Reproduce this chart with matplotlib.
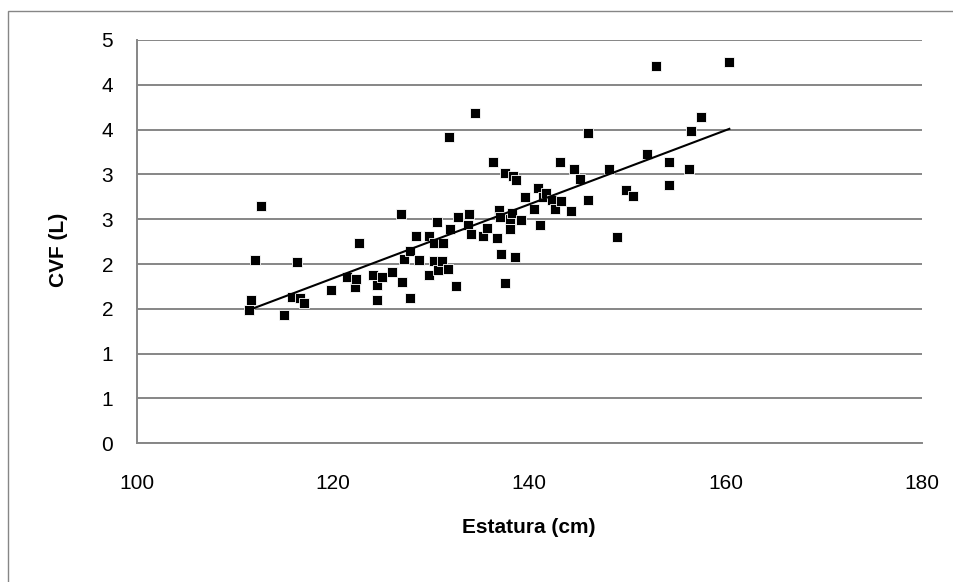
import numpy as np
import matplotlib
matplotlib.use("Agg")
import matplotlib.pyplot as plt
from matplotlib.patches import Rectangle

plt.rcParams['font.family'] = ['Liberation Sans', 'DejaVu Sans']

# estatura (cm) y CVF (L)
estatura = np.array([
    111.4, 111.6, 112.1, 112.7, 115.0, 115.8, 116.6, 117.1, 116.3, 119.8,
    121.4, 122.2, 122.3, 122.7, 124.1, 124.5, 124.5, 125.0, 126.0, 127.0,
    126.9, 127.2, 127.9, 127.9, 128.5, 128.8, 129.8, 129.8, 130.3, 130.3,
    130.6, 130.7, 131.1, 131.2, 131.7, 131.8, 131.9, 132.5, 132.7, 133.8,
    133.9, 134.1, 134.5, 135.3, 135.7, 136.3, 136.7, 136.9, 137.0, 137.1,
    137.5, 137.5, 138.0, 138.0, 138.2, 138.4, 138.7, 138.6, 139.2, 139.6,
    140.5, 140.9, 141.1, 141.4, 141.7, 142.3, 142.6, 143.1, 143.2, 144.3,
    144.6, 145.2, 146.0, 146.0, 148.1, 148.9, 149.9, 150.6, 152.0, 152.9,
    154.2, 154.2, 156.3, 156.5, 157.5, 160.4])
cvf = np.array([
    1.49, 1.60, 2.04, 2.65, 1.43, 1.63, 1.62, 1.56, 2.02, 1.71,
    1.86, 1.74, 1.83, 2.24, 1.88, 1.77, 1.60, 1.86, 1.91, 1.80,
    2.56, 2.06, 2.15, 1.62, 2.31, 2.04, 2.31, 1.88, 2.23, 2.03,
    2.47, 1.93, 2.03, 2.23, 1.95, 3.42, 2.39, 1.75, 2.53, 2.44,
    2.56, 2.34, 3.69, 2.31, 2.40, 3.14, 2.29, 2.60, 2.53, 2.11,
    3.02, 1.79, 2.50, 2.39, 2.57, 2.98, 2.94, 2.08, 2.49, 2.75,
    2.61, 2.85, 2.44, 2.75, 2.79, 2.72, 2.61, 3.14, 2.70, 2.59,
    3.06, 2.95, 2.71, 3.46, 3.06, 2.30, 2.83, 2.76, 3.23, 4.21,
    3.14, 2.88, 3.06, 3.48, 3.64, 4.25])

x_ticks = [100, 120, 140, 160, 180]
y_ticks = [0, 0.5, 1.0, 1.5, 2.0, 2.5, 3.0, 3.5, 4.0, 4.5]
y_tick_labels = ["0", "1", "1", "2", "2", "3", "3", "4", "4", "5"]

fig = plt.figure(figsize=(9.54, 5.82), dpi=100)
ax = fig.add_axes([0.1433, 0.2383, 0.8228, 0.6930])

# marco del grafico
fig.patches.append(Rectangle((8/954, -0.05), 1.2, 1 - 11/582 + 0.05,
                             transform=fig.transFigure, fill=False,
                             edgecolor='#868686', lw=1.0))

ax.set_xlim(100, 180)
ax.set_ylim(0, 4.5)
ax.set_xticks(x_ticks)
ax.set_yticks(y_ticks)
ax.set_yticklabels(y_tick_labels)
ax.grid(axis='y', color='#868686', lw=1.4)
ax.set_axisbelow(True)

for s in ['top', 'right']:
    ax.spines[s].set_visible(False)
for s in ['left', 'bottom']:
    ax.spines[s].set_color('#868686')
    ax.spines[s].set_linewidth(1.4)
ax.tick_params(axis='both', length=0, labelsize=15)
ax.tick_params(axis='y', pad=17)
ax.tick_params(axis='x', pad=22)

ax.plot(estatura, cvf, ls='none', marker='s', ms=7, mfc='black',
        mec='white', mew=0.6, zorder=3)

# linea de tendencia lineal
b1, b0 = np.polyfit(estatura, cvf, 1)
xl = np.array([estatura.min(), estatura.max()])
ax.plot(xl, b0 + b1*xl, color='black', lw=1.5, zorder=4)

ax.set_xlabel('Estatura (cm)', fontsize=15, fontweight='bold', labelpad=18)
ax.set_ylabel('CVF (L)', fontsize=15, fontweight='bold')
ax.yaxis.set_label_coords(-0.088, 0.48)

fig.savefig('out.png', dpi=100)
